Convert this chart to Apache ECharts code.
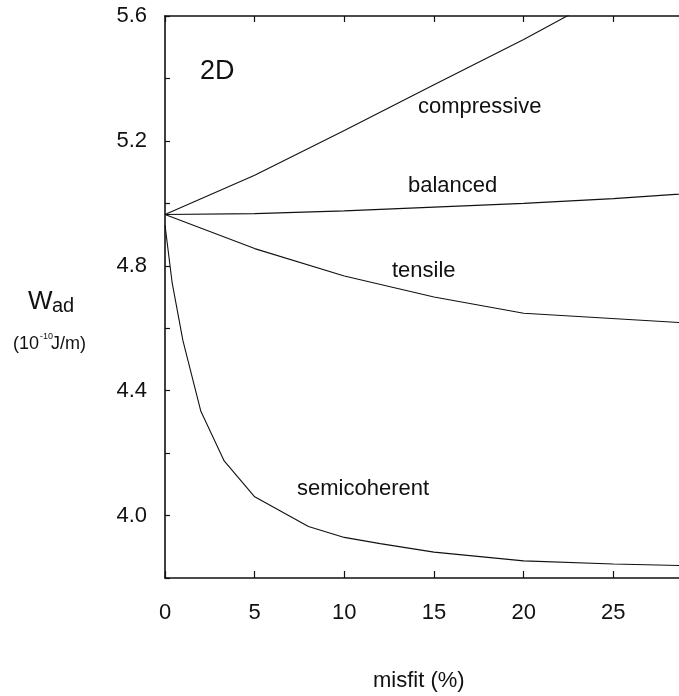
<!DOCTYPE html>
<html>
<head>
<meta charset="utf-8">
<script src="https://cdn.jsdelivr.net/npm/echarts@6/dist/echarts.min.js"></script>
<style>
  html, body { margin: 0; padding: 0; background: #fff; }
  #chart { width: 679px; height: 696px; }
</style>
</head>
<body>
<div id="chart"></div>
<script>
// misfit (%) vs W_ad (10^-10 J/m)
var compressive = [[0, 4.964], [5, 5.09], [10, 5.233], [15, 5.38], [20, 5.525], [25, 5.68], [30, 5.84]]
var balanced = [[0, 4.964], [5, 4.967], [10, 4.976], [15, 4.988], [20, 5.0], [25, 5.015], [30, 5.035]]
var tensile = [[0, 4.964], [5, 4.855], [10, 4.767], [15, 4.70], [20, 4.648], [30, 4.614]]
var semicoherent = [[0, 4.93], [0.4, 4.745], [1, 4.56], [2, 4.334], [3.3, 4.175], [5, 4.06], [8, 3.965],
  [10, 3.93], [12, 3.91], [15, 3.883], [20, 3.855], [25, 3.845], [30, 3.838]]
var yLabels = ['4.0', '4.4', '4.8', '5.2', '5.6']

var font = 'Liberation Sans, Arial, sans-serif'
var ink = '#111'

var chart = echarts.init(document.getElementById('chart'))

function line(name, data) {
  return {
    name: name,
    type: 'line',
    data: data,
    symbol: 'none',
    smooth: false,
    clip: true,
    lineStyle: { color: ink, width: 1.1 }
  }
}

function label(text, x, y, size) {
  return {
    type: 'text',
    left: x,
    top: y,
    style: { text: text, font: size + 'px ' + font, fill: ink }
  }
}

chart.setOption({
  animation: false,
  backgroundColor: '#fff',
  // right edge of the plot (30 %) falls outside the window, like the scan
  grid: { left: 165, top: 16, width: 538, height: 562, outerBoundsMode: 'none', containLabel: false },
  xAxis: [{
    type: 'value',
    position: 'bottom',
    min: 0,
    max: 30,
    interval: 5,
    axisLine: { lineStyle: { color: ink, width: 1.6 } },
    axisTick: { inside: true, length: 7, lineStyle: { color: ink, width: 1.2 } },
    axisLabel: { margin: 24, fontSize: 22, fontFamily: font, color: ink },
    splitLine: { show: false }
  }, {
    type: 'value',
    position: 'top',
    min: 0,
    max: 30,
    interval: 5,
    axisLine: { lineStyle: { color: ink, width: 1.6 } },
    axisTick: { inside: true, length: 6, lineStyle: { color: ink, width: 1.2 } },
    axisLabel: { show: false },
    splitLine: { show: false }
  }],
  yAxis: {
    type: 'value',
    min: 3.8,
    max: 5.6,
    interval: 0.2,
    axisLine: { lineStyle: { color: ink, width: 1.6 } },
    axisTick: { inside: true, length: 5, lineStyle: { color: ink, width: 1.2 } },
    axisLabel: {
      margin: 18,
      fontSize: 22,
      fontFamily: font,
      color: ink,
      formatter: function(v) {
        var s = v.toFixed(1)
        return yLabels.indexOf(s) >= 0 ? s : ''
      }
    },
    splitLine: { show: false }
  },
  series: [
    line('compressive', compressive),
    line('balanced', balanced),
    line('tensile', tensile),
    line('semicoherent', semicoherent)
  ],
  graphic: [
    label('2D', 200, 58, 27),
    label('compressive', 418, 96, 22),
    label('balanced', 408, 175, 22),
    label('tensile', 392, 260, 22),
    label('semicoherent', 297, 478, 22),
    label('misfit (%)', 373, 670, 22),
    label('W', 28, 289, 26),
    label('ad', 52, 296, 20),
    label('(10', 13, 335, 18),
    label('-10', 40, 332, 9),
    label('J/m)', 51, 335, 18)
  ]
})
</script>
</body>
</html>
